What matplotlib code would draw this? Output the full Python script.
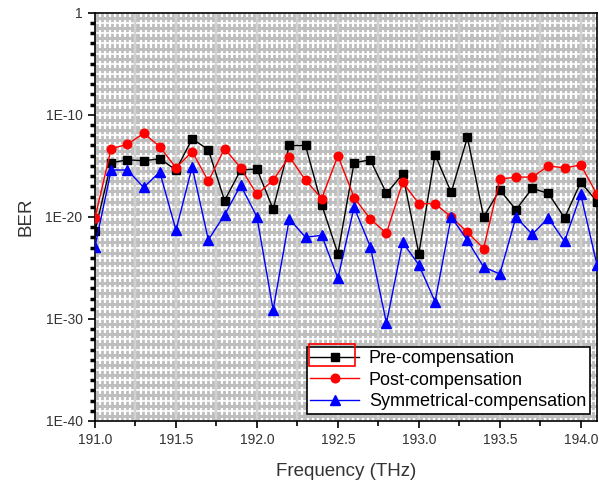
import numpy as np
import matplotlib.pyplot as plt
from matplotlib.patches import Rectangle
from matplotlib.ticker import FixedLocator, FuncFormatter

plt.rcParams['font.family'] = ['Liberation Sans', 'DejaVu Sans']

freq = [191.0, 191.1, 191.2, 191.3, 191.4, 191.5, 191.6, 191.7,
        191.8, 191.9, 192.0, 192.1, 192.2, 192.3, 192.4, 192.5,
        192.6, 192.7, 192.8, 192.9, 193.0, 193.1, 193.2, 193.3,
        193.4, 193.5, 193.6, 193.7, 193.8, 193.9, 194.0, 194.1]

# log10(BER)
pre_log = [-21.4, -14.7, -14.4, -14.5, -14.3, -15.4, -12.35, -13.4,
           -18.4, -15.4, -15.3, -19.25, -13.0, -13.0, -18.8, -23.6,
           -14.7, -14.4, -17.7, -15.8, -23.6, -13.9, -17.6, -12.2,
           -20.0, -17.35, -19.3, -17.2, -17.7, -20.1, -16.6, -18.5]
post_log = [-20.1, -13.3, -12.9, -11.8, -13.1, -15.2, -13.6, -16.5,
            -13.3, -15.2, -17.8, -16.4, -14.1, -16.4, -18.2, -14.0,
            -18.1, -20.2, -21.6, -16.6, -18.7, -18.7, -20.0, -21.5,
            -23.1, -16.3, -16.1, -16.1, -15.0, -15.2, -14.9, -17.8]
sym_log = [-22.9, -15.4, -15.4, -17.1, -15.6, -21.3, -15.1, -22.25,
           -19.8, -16.9, -20.0, -29.1, -20.2, -22.0, -21.8, -26.0,
           -19.05, -22.9, -30.4, -22.5, -24.7, -28.3, -20.0, -22.3,
           -24.9, -25.6, -20.0, -21.7, -20.1, -22.4, -17.8, -24.7]

pre = 10.0 ** np.array(pre_log)
post = 10.0 ** np.array(post_log)
sym = 10.0 ** np.array(sym_log)

fig = plt.figure(figsize=(5.99, 4.83), dpi=100)
ax = fig.add_axes([0.1586, 0.1284, 0.838, 0.845])
ax.set_facecolor('#bebebe')

# background grid pattern
xmin, xmax = 191.0, 194.1
for xv in np.arange(xmin, xmax + 0.001, 0.03125):
    ax.axvline(xv, color='white', lw=1.6, zorder=0.5)
for d in range(-40, 1):
    ax.axhline(10.0 ** (d + 0.5), color='#bebebe', lw=2.2, zorder=0.6)
    ax.axhline(10.0 ** d, color='white', lw=1.2, zorder=0.7)
for xv in np.arange(xmin, xmax + 0.001, 0.25):
    ax.axvline(xv, color='#d2d2d2', lw=1.6, zorder=0.8)

ax.plot(freq, pre, color='black', lw=1, marker='s', ms=5.8,
        label='Pre-compensation', zorder=3)
ax.plot(freq, post, color='red', lw=1, marker='o', ms=6.2,
        label='Post-compensation', zorder=3)
ax.plot(freq, sym, color='blue', lw=1, marker='^', ms=6.8,
        label='Symmetrical-compensation', zorder=3)

ax.set_yscale('log')
ax.set_ylim(1e-40, 1)
ax.set_xlim(xmin, xmax)

ax.yaxis.set_major_locator(FixedLocator([1e-40, 1e-30, 1e-20, 1e-10, 1]))
ax.yaxis.set_minor_locator(FixedLocator([10.0 ** d for d in range(-40, 1)]))
ax.yaxis.set_major_formatter(FuncFormatter(
    lambda v, p: '1' if v >= 1 else '1E%d' % round(np.log10(v))))
ax.yaxis.set_minor_formatter(FuncFormatter(lambda v, p: ''))

ax.set_xticks(np.arange(191.0, 194.01, 0.5))
ax.set_xticks(np.arange(191.25, 194.1, 0.5), minor=True)
ax.xaxis.set_major_formatter(FuncFormatter(lambda v, p: '%.1f' % v))

ax.tick_params(which='major', direction='out', length=5, width=1.2,
               labelsize=10, labelcolor='#333333', pad=4)
ax.tick_params(which='minor', direction='out', length=3.5, width=1.2)
ax.tick_params(axis='y', which='minor', length=3.5, width=2.5)
for s in ax.spines.values():
    s.set_linewidth(1.2)

ax.set_xlabel('Frequency (THz)', fontsize=13.5, color='#333333', labelpad=11)
ax.set_ylabel('BER', fontsize=13.5, color='#333333', labelpad=8)

leg = ax.legend(loc='lower right', fontsize=13, frameon=True, fancybox=False,
                edgecolor='black', framealpha=1, borderaxespad=0.4,
                handlelength=2.7, labelspacing=0.25, borderpad=0.2,
                handletextpad=0.55)
leg.get_frame().set_linewidth(1.2)

# red selection box around the first legend handle
fig.patches.append(Rectangle((309 / 599, 1 - 366 / 483), 46 / 599, 22 / 483,
                             transform=fig.transFigure, fill=False,
                             edgecolor='red', lw=1.2, zorder=10))

fig.savefig('out.png', dpi=100)
